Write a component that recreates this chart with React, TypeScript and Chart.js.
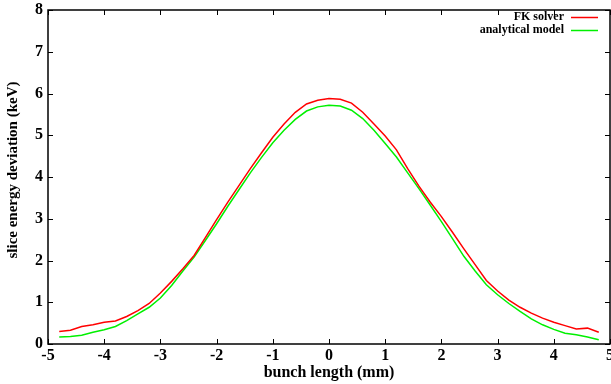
import React, { useEffect, useRef } from "react";
import { Chart, registerables } from "chart.js";

Chart.register(...registerables);

const bunchLength = [
  -4.8, -4.6, -4.4, -4.2, -4.0, -3.8, -3.6, -3.4, -3.2, -3.0, -2.8, -2.6, -2.4, -2.2, -2.0, -1.8, -1.6,
  -1.4, -1.2, -1.0, -0.8, -0.6, -0.4, -0.2, 0.0, 0.2, 0.4, 0.6, 0.8, 1.0, 1.2, 1.4, 1.6, 1.8, 2.0, 2.2,
  2.4, 2.6, 2.8, 3.0, 3.2, 3.4, 3.6, 3.8, 4.0, 4.2, 4.4, 4.6, 4.8,
];
const fkSolver = [
  0.3, 0.33, 0.42, 0.46, 0.52, 0.55, 0.66, 0.8, 0.97, 1.22, 1.5, 1.8, 2.12, 2.55, 2.98, 3.4, 3.8,
  4.2, 4.58, 4.95, 5.27, 5.55, 5.75, 5.84, 5.88, 5.86, 5.77, 5.55, 5.27, 4.98, 4.65, 4.2, 3.78, 3.4, 3.05, 2.67,
  2.28, 1.9, 1.52, 1.27, 1.05, 0.88, 0.74, 0.62, 0.52, 0.44, 0.36, 0.38, 0.28,
];
const analyticalModel = [
  0.17, 0.18, 0.21, 0.28, 0.34, 0.42, 0.56, 0.72, 0.88, 1.1, 1.4, 1.75, 2.08, 2.48, 2.88, 3.3, 3.7,
  4.1, 4.47, 4.82, 5.12, 5.38, 5.58, 5.68, 5.72, 5.7, 5.6, 5.4, 5.12, 4.8, 4.48, 4.1, 3.72, 3.33, 2.93, 2.52,
  2.1, 1.75, 1.42, 1.18, 0.97, 0.78, 0.6, 0.46, 0.35, 0.26, 0.22, 0.17, 0.1,
];
const seriesNames = ["FK solver", "analytical model"];
const seriesColors = ["#ff0000", "#00f000"];
const xTitle = "bunch length (mm)";
const yTitle = "slice energy deviation (keV)";

const FONT = "'Liberation Serif', 'Times New Roman', serif";

const framePlugin = {
  id: "frame",
  afterDatasetsDraw(chart: any) {
    const { ctx, chartArea } = chart;
    const { left, right, top, bottom } = chartArea;
    const xs = chart.scales.x;
    const ys = chart.scales.y;
    ctx.save();
    ctx.strokeStyle = "#000";
    ctx.lineWidth = 1.5;
    ctx.strokeRect(left, top, right - left, bottom - top);
    ctx.lineWidth = 1;
    const t = 5;
    ctx.beginPath();
    xs.ticks.forEach((tk: any) => {
      const px = Math.round(xs.getPixelForValue(tk.value)) + 0.5;
      ctx.moveTo(px, bottom);
      ctx.lineTo(px, bottom - t);
      ctx.moveTo(px, top);
      ctx.lineTo(px, top + t);
    });
    ys.ticks.forEach((tk: any) => {
      const py = Math.round(ys.getPixelForValue(tk.value)) + 0.5;
      ctx.moveTo(left, py);
      ctx.lineTo(left + t, py);
      ctx.moveTo(right, py);
      ctx.lineTo(right - t, py);
    });
    ctx.stroke();

    // y axis title
    ctx.save();
    ctx.translate(13, 170);
    ctx.rotate(-Math.PI / 2);
    ctx.font = `bold 15px ${FONT}`;
    ctx.fillStyle = "#000";
    ctx.textAlign = "center";
    ctx.textBaseline = "middle";
    ctx.fillText(yTitle, 0, 0);
    ctx.restore();

    // legend
    ctx.font = `bold 12px ${FONT}`;
    ctx.textAlign = "right";
    ctx.textBaseline = "middle";
    const textRight = 564;
    const rows = [17, 30];
    seriesNames.forEach((name, i) => {
      ctx.fillStyle = "#000";
      ctx.fillText(name, textRight, rows[i]);
      ctx.strokeStyle = seriesColors[i];
      ctx.lineWidth = 1.5;
      ctx.beginPath();
      ctx.moveTo(textRight + 7, rows[i] + 0.5);
      ctx.lineTo(textRight + 34, rows[i] + 0.5);
      ctx.stroke();
    });
    ctx.restore();
  },
};

export default function App() {
  const ref = useRef<HTMLCanvasElement>(null);
  useEffect(() => {
    document.body.style.margin = "0";
    const canvas = ref.current!;
    const chart = new Chart(canvas, {
      type: "line",
      data: {
        datasets: [
          {
            label: seriesNames[0],
            data: bunchLength.map((x, i) => ({ x, y: fkSolver[i] })),
            borderColor: seriesColors[0],
            borderWidth: 1.5,
            pointRadius: 0,
            tension: 0,
          },
          {
            label: seriesNames[1],
            data: bunchLength.map((x, i) => ({ x, y: analyticalModel[i] })),
            borderColor: seriesColors[1],
            borderWidth: 1.5,
            pointRadius: 0,
            tension: 0,
          },
        ],
      },
      options: {
        animation: false,
        responsive: false,
        layout: { padding: { left: 0, right: 1, top: 10, bottom: 0 } },
        plugins: { legend: { display: false }, tooltip: { enabled: false } },
        scales: {
          x: {
            type: "linear",
            min: -5,
            max: 5,
            afterFit: (s: any) => {
              s.height = 40;
              s.paddingLeft = 0;
              s.paddingRight = 0;
            },
            ticks: {
              stepSize: 1,
              color: "#000",
              font: { family: FONT, weight: "bold", size: 16 },
              padding: 2,
              maxRotation: 0,
            },
            grid: { display: false, drawTicks: false },
            border: { display: false },
            title: {
              display: true,
              text: xTitle,
              color: "#000",
              font: { family: FONT, weight: "bold", size: 16 },
              padding: { top: 0, bottom: 2 },
            },
          },
          y: {
            min: 0,
            max: 8,
            afterFit: (s: any) => {
              s.width = 48;
              s.paddingTop = 0;
              s.paddingBottom = 0;
            },
            ticks: {
              stepSize: 1,
              color: "#000",
              font: { family: FONT, weight: "bold", size: 16 },
              padding: 5,
            },
            grid: { display: false, drawTicks: false },
            border: { display: false },
            title: { display: false },
          },
        },
      },
      plugins: [framePlugin],
    });
    return () => chart.destroy();
  }, []);
  return (
    <div style={{ width: 611, height: 384 }}>
      <canvas ref={ref} width={611} height={384} style={{ display: "block" }} />
    </div>
  );
}
